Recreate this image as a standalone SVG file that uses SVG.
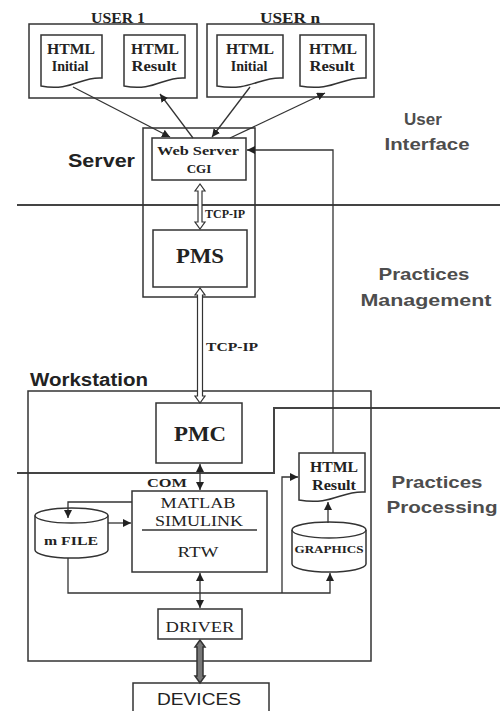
<svg xmlns="http://www.w3.org/2000/svg" width="500" height="711" viewBox="0 0 500 711">
<defs>
<style>
.box{fill:none;stroke:#333;stroke-width:1.5}
.wbox{fill:#fff;stroke:#333;stroke-width:1.5}
.ln{fill:none;stroke:#333;stroke-width:1.3}
.div{fill:none;stroke:#444;stroke-width:2}
.sf{font-family:"Liberation Serif","Times New Roman",serif;fill:#222}
.sb{font-family:"Liberation Serif","Times New Roman",serif;font-weight:bold;fill:#222}
.ss{font-family:"Liberation Sans",Arial,sans-serif;font-weight:bold;fill:#222}
.lab{font-family:"Liberation Sans",Arial,sans-serif;font-weight:bold;fill:#4d4d4d;font-size:17px}
.hollow{fill:#fff;stroke:#333;stroke-width:1.2}
</style>
<marker id="ah" viewBox="0 0 10 10" refX="10" refY="5" markerWidth="8" markerHeight="8" markerUnits="userSpaceOnUse" orient="auto-start-reverse">
<path d="M0,0 L10,5 L0,10 Z" fill="#222"/>
</marker>
</defs>

<rect width="500" height="711" fill="#fff"/>

<!-- section dividers -->
<g id="dividers">
<line class="div" x1="17" y1="205" x2="500" y2="205"/>
<path class="div" d="M17,473 H274 V408 H500"/>
</g>

<!-- side labels -->
<g id="labels">
<text class="lab" x="423" y="125" text-anchor="middle">User</text>
<text class="lab" x="427" y="150" text-anchor="middle" textLength="85" lengthAdjust="spacingAndGlyphs">Interface</text>
<text class="lab" x="424" y="280" text-anchor="middle" textLength="91" lengthAdjust="spacingAndGlyphs">Practices</text>
<text class="lab" x="426" y="306" text-anchor="middle" textLength="131" lengthAdjust="spacingAndGlyphs">Management</text>
<text class="lab" x="437" y="488" text-anchor="middle" textLength="91" lengthAdjust="spacingAndGlyphs">Practices</text>
<text class="lab" x="442" y="513" text-anchor="middle" textLength="111" lengthAdjust="spacingAndGlyphs">Processing</text>
</g>

<!-- user 1 -->
<g id="user1">
<rect class="box" x="29" y="24" width="168" height="74"/>
<text class="sb" x="118" y="23" font-size="14" text-anchor="middle" textLength="54" lengthAdjust="spacingAndGlyphs">USER 1</text>
</g>
<g id="user1-html-initial">
<path class="wbox" d="M41,35 H102 V78 C81,76 71,92 41,86 Z"/>
<text class="sb" x="71" y="54" font-size="14" text-anchor="middle" textLength="48" lengthAdjust="spacingAndGlyphs">HTML</text>
<text class="sb" x="70" y="71" font-size="14" text-anchor="middle">Initial</text>
</g>
<g id="user1-html-result">
<path class="wbox" d="M124,35 H185 V78 C164,76 154,92 124,86 Z"/>
<text class="sb" x="155" y="54" font-size="14" text-anchor="middle" textLength="48" lengthAdjust="spacingAndGlyphs">HTML</text>
<text class="sb" x="154" y="71" font-size="14" text-anchor="middle" textLength="45" lengthAdjust="spacingAndGlyphs">Result</text>
</g>

<!-- user n -->
<g id="usern">
<rect class="box" x="207" y="24" width="167" height="73"/>
<text class="sb" x="290" y="23" font-size="14" text-anchor="middle" textLength="60" lengthAdjust="spacingAndGlyphs">USER n</text>
</g>
<g id="usern-html-initial">
<path class="wbox" d="M217,35 H283 V78 C260,76 250,92 217,86 Z"/>
<text class="sb" x="250" y="54" font-size="14" text-anchor="middle" textLength="48" lengthAdjust="spacingAndGlyphs">HTML</text>
<text class="sb" x="249" y="71" font-size="14" text-anchor="middle">Initial</text>
</g>
<g id="usern-html-result">
<path class="wbox" d="M300,35 H366 V78 C343,76 333,92 300,86 Z"/>
<text class="sb" x="333" y="54" font-size="14" text-anchor="middle" textLength="48" lengthAdjust="spacingAndGlyphs">HTML</text>
<text class="sb" x="332" y="71" font-size="14" text-anchor="middle" textLength="45" lengthAdjust="spacingAndGlyphs">Result</text>
</g>

<!-- server -->
<g id="server">
<rect class="box" x="143" y="128" width="112" height="169"/>
<text class="ss" x="68" y="167" font-size="18" textLength="67" lengthAdjust="spacingAndGlyphs">Server</text>
</g>
<g id="webserver">
<rect class="wbox" x="152" y="138" width="94" height="42"/>
<text class="sb" x="198" y="155" font-size="13" text-anchor="middle" textLength="82" lengthAdjust="spacingAndGlyphs">Web Server</text>
<text class="sb" x="199" y="173" font-size="13" text-anchor="middle">CGI</text>
</g>
<g id="pms">
<rect class="wbox" x="153" y="230" width="94" height="57"/>
<text class="sb" x="200" y="263" font-size="20" text-anchor="middle" textLength="48" lengthAdjust="spacingAndGlyphs">PMS</text>
</g>

<!-- workstation -->
<g id="workstation">
<rect class="box" x="28" y="391" width="343" height="270"/>
<text class="ss" x="30" y="386" font-size="18" textLength="118" lengthAdjust="spacingAndGlyphs">Workstation</text>
</g>
<g id="pmc">
<rect class="wbox" x="156" y="403" width="86" height="60"/>
<text class="sb" x="200" y="441" font-size="20" text-anchor="middle" textLength="52" lengthAdjust="spacingAndGlyphs">PMC</text>
</g>
<g id="matlab">
<rect class="wbox" x="132" y="491" width="135" height="81"/>
<text class="sf" x="198" y="508" font-size="14" text-anchor="middle" textLength="75" lengthAdjust="spacingAndGlyphs">MATLAB</text>
<text class="sf" x="199" y="526" font-size="14" text-anchor="middle" textLength="88" lengthAdjust="spacingAndGlyphs">SIMULINK</text>
<line x1="142" y1="530" x2="257" y2="530" stroke="#333" stroke-width="1.3"/>
<text class="sf" x="198" y="557" font-size="15" text-anchor="middle" textLength="41" lengthAdjust="spacingAndGlyphs">RTW</text>
</g>
<g id="mfile">
<path class="wbox" d="M35,515.5 V550 A36.5,8 0 0 0 108,550 V515.5 A36.5,7.5 0 0 0 35,515.5 Z"/>
<path class="ln" d="M35,515.5 A36.5,7.5 0 0 0 108,515.5"/>
<text class="sb" x="71" y="545" font-size="12" text-anchor="middle" textLength="54" lengthAdjust="spacingAndGlyphs">m FILE</text>
</g>
<g id="graphics">
<path class="wbox" d="M292,530 V564 A37,8 0 0 0 366,564 V530 A37,8 0 0 0 292,530 Z"/>
<path class="ln" d="M292,530 A37,8 0 0 0 366,530"/>
<text class="sb" x="329" y="553" font-size="11" text-anchor="middle" textLength="69" lengthAdjust="spacingAndGlyphs">GRAPHICS</text>
</g>
<g id="ws-html-result">
<path class="wbox" d="M299,453 H365 V492 C342,490 332,506 299,500 Z"/>
<text class="sb" x="334" y="472" font-size="14" text-anchor="middle" textLength="48" lengthAdjust="spacingAndGlyphs">HTML</text>
<text class="sb" x="334" y="490" font-size="14" text-anchor="middle" textLength="44" lengthAdjust="spacingAndGlyphs">Result</text>
</g>
<g id="driver">
<rect class="wbox" x="158" y="609" width="84" height="30"/>
<text class="sf" x="200" y="632" font-size="15" text-anchor="middle" textLength="69" lengthAdjust="spacingAndGlyphs">DRIVER</text>
</g>
<g id="devices">
<rect class="wbox" x="133" y="683" width="136" height="40"/>
<text x="199" y="705" font-family="'Liberation Sans',Arial,sans-serif" font-size="16" fill="#222" text-anchor="middle" textLength="84" lengthAdjust="spacingAndGlyphs">DEVICES</text>
</g>

<!-- connectors -->
<g id="connectors">
<line class="ln" x1="73" y1="87" x2="170" y2="137" marker-end="url(#ah)"/>
<line class="ln" x1="193" y1="138" x2="160" y2="94" marker-end="url(#ah)"/>
<line class="ln" x1="250" y1="87" x2="212" y2="137" marker-end="url(#ah)"/>
<line class="ln" x1="230" y1="138" x2="325" y2="93" marker-end="url(#ah)"/>
<path class="ln" d="M333,453 V150 H247" marker-end="url(#ah)"/>
<!-- TCP-IP web server - PMS -->
<path class="hollow" d="M200,184 L195,191 H198 V222 H195 L200,229 L205,222 H202 V191 H205 Z"/>
<text class="sb" x="205" y="218" font-size="12">TCP-IP</text>
<!-- TCP-IP PMS - PMC -->
<path class="hollow" d="M200,288 L195,295 H197.5 V396 H195 L200,403 L205,396 H202.5 V295 H205 Z"/>
<text class="sb" x="206" y="351" font-size="13" textLength="52" lengthAdjust="spacingAndGlyphs">TCP-IP</text>
<!-- COM -->
<line class="ln" x1="200" y1="464" x2="200" y2="490" marker-start="url(#ah)" marker-end="url(#ah)"/>
<text class="sb" x="147" y="487" font-size="13" textLength="40" lengthAdjust="spacingAndGlyphs">COM</text>
<!-- matlab - m file -->
<path class="ln" d="M132,502 H68 V518" marker-end="url(#ah)"/>
<line class="ln" x1="108" y1="523" x2="131" y2="523" marker-end="url(#ah)"/>
<!-- bottom bus -->
<path class="ln" d="M68,558 V593 H330 V573" marker-end="url(#ah)"/>
<path class="ln" d="M282,593 V477 H298" marker-end="url(#ah)"/>
<line class="ln" x1="328" y1="523" x2="328" y2="502" marker-end="url(#ah)"/>
<!-- matlab - driver -->
<line class="ln" x1="200" y1="573" x2="200" y2="608" marker-start="url(#ah)" marker-end="url(#ah)"/>
<!-- driver - devices -->
<path d="M200,640 L195,647 H197 V676 H195 L200,683 L205,676 H203 V647 H205 Z" fill="#777" stroke="#333" stroke-width="1.5"/>
</g>
</svg>
